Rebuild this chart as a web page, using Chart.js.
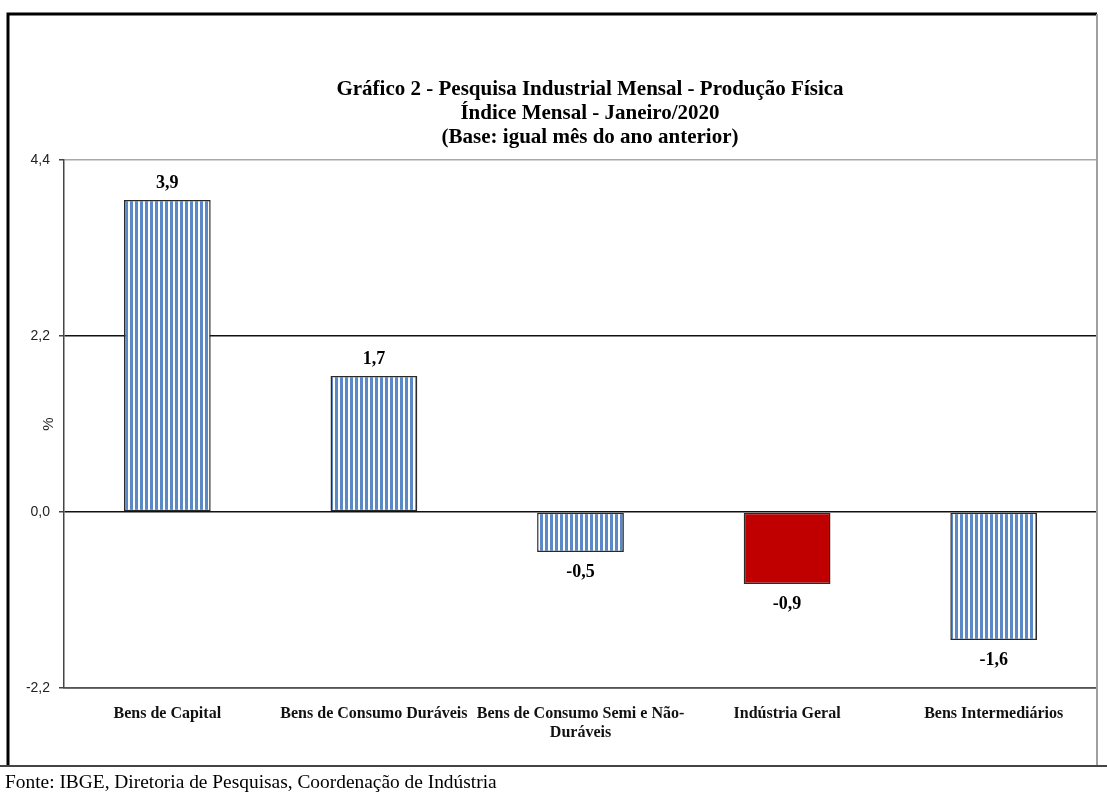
<!DOCTYPE html>
<html>
<head>
<meta charset="utf-8">
<script src="https://cdn.jsdelivr.net/npm/chart.js@4"></script>
<style>
  html, body { margin: 0; padding: 0; background: #fff; }
  #wrap { position: relative; width: 1107px; height: 792px; }
</style>
</head>
<body>
<div id="wrap"><canvas id="pim-chart" width="1107" height="792"></canvas></div>
<script>
// data
const categories = [
    'Bens de Capital',
    'Bens de Consumo Duráveis',
    ['Bens de Consumo Semi e Não-', 'Duráveis'],
    'Indústria Geral',
    'Bens Intermediários'
];
const values = [3.9, 1.7, -0.5, -0.9, -1.6];
const tickValues = [-2.2, 0.0, 2.2, 4.4];
const titleLines = [
    'Gráfico 2 - Pesquisa Industrial Mensal - Produção Física',
    'Índice Mensal - Janeiro/2020',
    '(Base: igual mês do ano anterior)'
];
const sourceText = 'Fonte: IBGE, Diretoria de Pesquisas, Coordenação de Indústria';

const fmt = v => v.toFixed(1).replace('.', ',');

// vertical striped fill for the grouped categories
function stripePattern(ctx) {
    const c = document.createElement('canvas');
    c.width = 5; c.height = 4;
    const p = c.getContext('2d');
    p.fillStyle = '#ffffff';
    p.fillRect(0, 0, 5, 4);
    p.fillStyle = '#5b88c6';
    p.fillRect(0, 0, 3, 4);
    return ctx.createPattern(c, 'repeat');
}

const ctx = document.getElementById('pim-chart').getContext('2d');
const stripes = stripePattern(ctx);

// frame, title, source note and value labels
const decorations = {
    id: 'decorations',
    afterDraw(chart) {
        const c = chart.ctx;
        c.save();
        // outer frame
        c.strokeStyle = '#000';
        c.lineWidth = 3;
        c.beginPath();
        c.moveTo(8, 766);
        c.lineTo(8, 14);
        c.lineTo(1097, 14);
        c.stroke();
        c.strokeStyle = '#a0a0a0';
        c.lineWidth = 2;
        c.beginPath();
        c.moveTo(1097, 14);
        c.lineTo(1097, 766);
        c.stroke();
        c.strokeStyle = '#444';
        c.beginPath();
        c.moveTo(0, 766);
        c.lineTo(1107, 766);
        c.stroke();

        // title
        c.fillStyle = '#000';
        c.textAlign = 'center';
        c.textBaseline = 'middle';
        c.font = 'bold 21px "Liberation Serif"';
        titleLines.forEach((t, i) => c.fillText(t, 590, 90 + i * 24));

        // source
        c.textAlign = 'left';
        c.font = '19.4px "Liberation Serif"';
        c.fillText(sourceText, 5, 783);

        // value labels
        const meta = chart.getDatasetMeta(0);
        c.textAlign = 'center';
        c.font = 'bold 18px "Liberation Serif"';
        meta.data.forEach((bar, i) => {
            const v = values[i];
            const y = v >= 0 ? bar.y - 17 : bar.y + 20;
            c.fillText(fmt(v), bar.x, y);
        });
        c.restore();
    }
};

new Chart(ctx, {
    type: 'bar',
    data: {
        labels: categories,
        datasets: [{
            label: '%',
            data: values,
            backgroundColor: values.map((v, i) => i === 3 ? '#c00000' : stripes),
            borderColor: '#2a2a2a',
            borderWidth: 1.5,
            borderSkipped: false,
            barPercentage: 0.42,
            categoryPercentage: 1
        }]
    },
    options: {
        responsive: false,
        animation: false,
        layout: { padding: { top: 160, left: 0, right: 10, bottom: 0 } },
        plugins: {
            legend: { display: false },
            tooltip: { enabled: false }
        },
        scales: {
            x: {
                afterFit: s => { s.height = 104; },
                grid: { display: false, drawTicks: false },
                border: { display: true, color: '#555', width: 1.5 },
                ticks: {
                    padding: 17,
                    maxRotation: 0,
                    autoSkip: false,
                    color: '#111',
                    font: { family: '"Liberation Serif"', size: 16, weight: 'bold', lineHeight: 1.15 }
                }
            },
            y: {
                min: -2.2,
                max: 4.4,
                afterFit: s => { s.width = 64; },
                afterBuildTicks: s => { s.ticks = tickValues.map(v => ({ value: v })); },
                title: {
                    display: true,
                    text: '%',
                    color: '#222',
                    padding: { top: 40, bottom: 0 },
                    font: { family: '"Liberation Sans"', size: 15 }
                },
                grid: {
                    tickLength: 5,
                    lineWidth: 1.5,
                    color: c => c.tick && Math.abs(c.tick.value - 4.4) < 0.01 ? '#a8a8a8' : '#111',
                    tickColor: '#444'
                },
                border: { display: true, color: '#444', width: 1.5 },
                ticks: {
                    padding: 9,
                    color: '#222',
                    font: { family: '"Liberation Sans"', size: 14 },
                    callback: v => fmt(v)
                }
            }
        }
    },
    plugins: [decorations]
});
</script>
</body>
</html>
